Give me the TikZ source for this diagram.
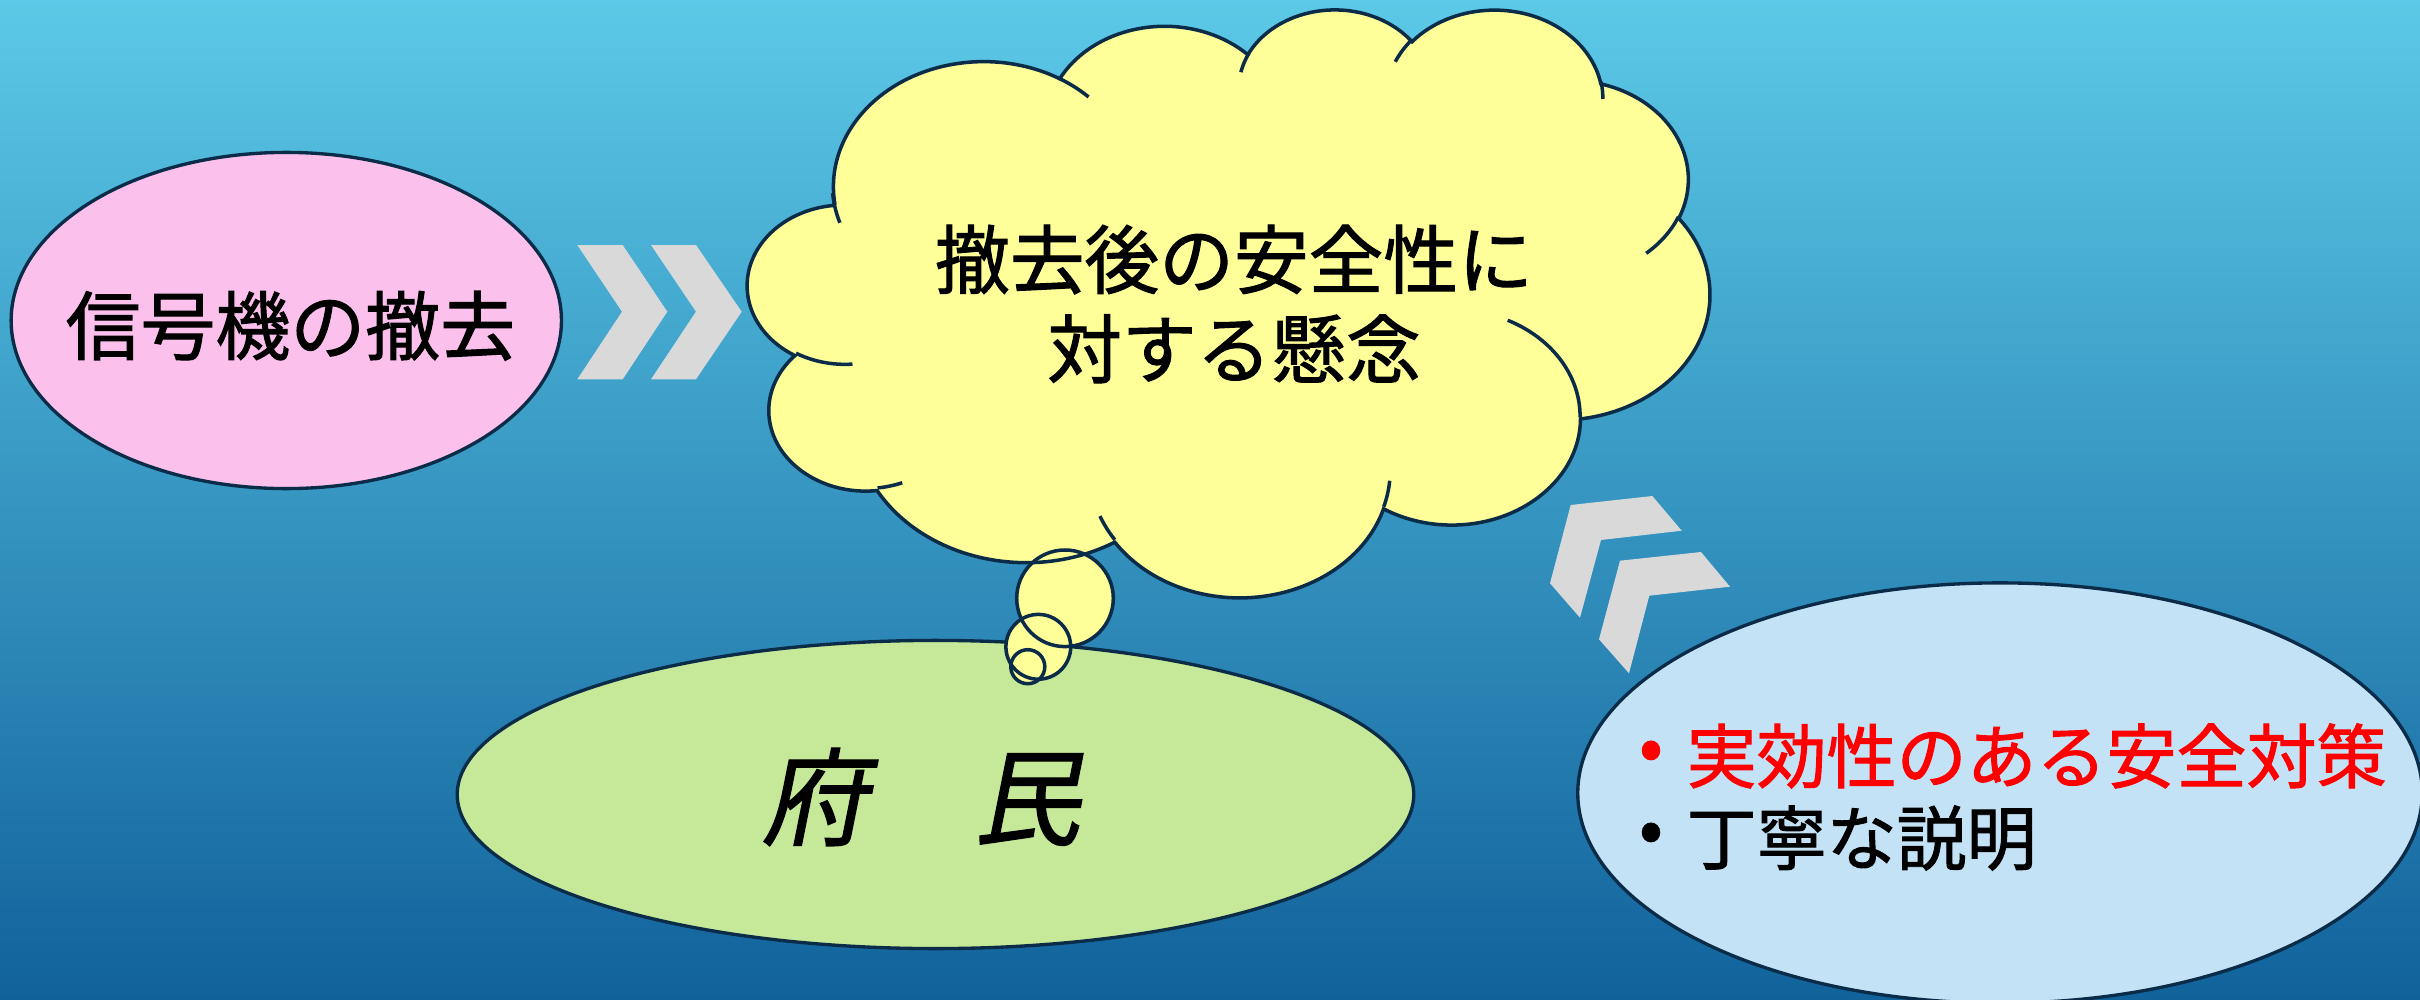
\documentclass[tikz,border=0pt]{standalone}
\usepackage{fontspec}
\usetikzlibrary{shapes.geometric}
\newfontfamily\jp{Noto Sans CJK JP}[FakeBold=1.4]
\newfontfamily\jpslant{Noto Sans CJK JP}[FakeSlant=0.2, FakeBold=1.2]
\definecolor{bgtop}{HTML}{5CC9E7}
\definecolor{bgbot}{HTML}{11629B}
\definecolor{edge}{HTML}{0B2C48}
\definecolor{pinkfill}{HTML}{FBC0EB}
\definecolor{greenfill}{HTML}{C6E899}
\definecolor{bluefill}{HTML}{C4E2F6}
\definecolor{cloudfill}{HTML}{FFFF99}
\definecolor{chevgray}{HTML}{D9D9D9}
\tikzset{
  oval/.style={ellipse, draw=edge, line width=0.95pt, inner sep=0pt},
  chev/.style={fill=chevgray},
  cloudedge/.style={draw=edge, line width=1pt},
  jptext/.style={inner sep=0pt, font=\jp\fontsize{#1}{1.17\dimexpr#1\relax}\selectfont},
}
\newcommand\mycloudpath{(39,143.7)
 arc[start angle=-187.747, end angle=-59.636, x radius=67.53, y radius=91.90]
 arc[start angle=-152.025, end angle=-45.452, x radius=53.33, y radius=72.67]
 arc[start angle=-153.487, end angle=-37.33, x radius=43.65, y radius=59.45]
 arc[start angle=-139.654, end angle=-10.211, x radius=48.57, y radius=65.95]
 arc[start angle=-74.765, end angle=23.21, x radius=53.33, y radius=72.73]
 arc[start angle=-37.531, end angle=81.862, x radius=67.75, y radius=92.20]
 arc[start angle=0.460, end angle=121.975, x radius=57.85, y radius=78.67]
 arc[start angle=16.845, end angle=146.239, x radius=67.52, y radius=92.15]
 arc[start angle=58.986, end angle=150.185, x radius=77.20, y radius=105.43]
 arc[start angle=-276.695, end angle=-136.895, x radius=43.60, y radius=59.18]
 arc[start angle=-239.648, end angle=-95.887, x radius=43.45, y radius=59.45]
 -- cycle}
\begin{document}
\begin{tikzpicture}[x=0.01cm, y=-0.01cm]
\useasboundingbox (0,0) rectangle (2420,1000);
\clip (0,0) rectangle (2420,1000);
\shade[top color=bgtop, bottom color=bgbot] (0,0) rectangle (2420,1000);

% ellipses
\node[oval, fill=pinkfill, minimum width=5.5cm, minimum height=3.36cm] (removal) at (286.3,320.5) {};
\node[oval, fill=greenfill, minimum width=9.56cm, minimum height=3.08cm] (citizens) at (935.5,794.5) {};
\node[oval, fill=bluefill, minimum width=8.44cm, minimum height=4.2cm] (measures) at (2000,793) {};

% chevrons
\fill[chev] (577.3,245) -- (622.7,245) -- (667.3,311.7) -- (622.7,379.3) -- (577.3,379.3) -- (622,311.7) -- cycle;
\fill[chev] (651,245) -- (696,245) -- (741.7,311.7) -- (696,379.3) -- (651,379.3) -- (696,311.7) -- cycle;
\fill[chev] (1570.7,505) -- (1652.3,496) -- (1681.7,530.7) -- (1601,540) -- (1580,617.7) -- (1550,583.3) -- cycle;
\fill[chev] (1620,560.7) -- (1701,552) -- (1730,586.7) -- (1649.3,595.7) -- (1629,673.3) -- (1599,639.3) -- cycle;

% thought cloud
\begin{scope}[shift={(748,8)}, x=0.022245cm, y=-0.013588cm]
  \fill[cloudfill] \mycloudpath;
\end{scope}
\fill[cloudfill] (1065,598.3) circle[radius=48.3];
\fill[cloudfill] (1038.3,646.8) circle[radius=32.4];
\fill[cloudfill] (1027.8,666.7) circle[radius=17];
\begin{scope}[shift={(748,8)}, x=0.022245cm, y=-0.013588cm]
  \draw[cloudedge] \mycloudpath;
  \draw[cloudedge]
   (46.93,261.77) arc[start angle=85.547, end angle=120.352, x radius=43.45, y radius=59.45]
   (69.28,348.99) arc[start angle=68.240, end angle=83.305, x radius=43.60, y radius=59.18]
   (164.78,390.90) arc[start angle=146.239, end angle=158.474, x radius=67.52, y radius=92.15]
   (288.27,347.51) arc[start angle=4.738, end angle=16.845, x radius=67.52, y radius=92.15]
   (341.29,229.54) arc[start angle=-64.029, end angle=0.460, x radius=57.85, y radius=78.67]
   (417.98,153.54) arc[start angle=23.21, end angle=49.643, x radius=53.33, y radius=72.73]
   (383.24,54.26) arc[start angle=-10.211, end angle=0.821, x radius=48.57, y radius=65.95]
   (290.78,39.52) arc[start angle=-156.282, end angle=-139.654, x radius=48.57, y radius=65.95]
   (221.41,47.20) arc[start angle=-167.725, end angle=-153.487, x radius=43.65, y radius=59.45]
   (140.00,51.92) arc[start angle=-59.636, end angle=-45.737, x radius=67.53, y radius=91.90]
   (41.27,157.89) arc[start angle=161.592, end angle=175.466, x radius=67.53, y radius=91.90];
\end{scope}
\draw[cloudedge] (1065,598.3) circle[radius=48.3];
\draw[cloudedge] (1038.3,646.8) circle[radius=32.4];
\draw[cloudedge] (1027.8,666.7) circle[radius=17];

% texts
\node[jptext=21.3pt] (removaltext) at (290.4,325.8) {信号機の撤去};
\node[jptext=21.25pt, align=center] (concern) at (1234,304) {撤去後の安全性に\\[0.6pt]対する懸念};
\node[inner sep=0pt, font=\jpslant\fontsize{30.2pt}{36pt}\selectfont] (citizenstext) at (921,797) {府　民};
\node[jptext=19.9pt, text=red] (bulletone) at (1651,756) {•};
\node[jptext=19.9pt] (bullettwo) at (1651,838) {•};
\node[jptext=19.9pt, align=left, anchor=west] (measurestext) at (1686,797)
  {\textcolor{red}{実効性のある安全対策}\\[0pt]丁寧な説明};
\end{tikzpicture}
\end{document}
